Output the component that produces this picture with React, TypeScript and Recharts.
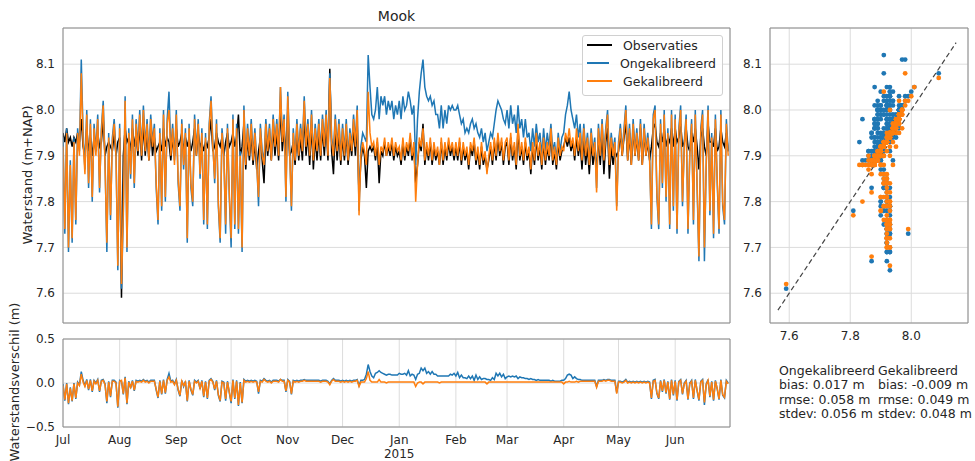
import {
  LineChart,
  Line,
  XAxis,
  YAxis,
  CartesianGrid,
  Legend,
  ScatterChart,
  Scatter,
  ReferenceLine,
} from "recharts";

// one sample per day, starting 1 Jul 2014
const STEP_DAYS = 1;

// Observaties (m+NAP), one line per month Jul 2014 .. Jun 2015
const obs = [
  7.95, 7.93, 7.96, 7.93, 7.94, 7.92, 7.94, 7.93, 7.95, 7.93, 7.98, 7.92, 7.9, 7.96, 7.91, 7.94, 7.9, 7.94, 7.91, 7.95, 7.92, 7.93, 7.98, 7.9, 7.92, 7.93, 7.92, 7.91, 7.95, 7.9, 7.93,
  7.94, 7.59, 7.9, 7.96, 7.93, 7.94, 7.91, 7.96, 7.92, 7.95, 7.9, 7.97, 7.89, 7.97, 7.9, 7.95, 7.89, 7.96, 7.9, 7.94, 7.91, 7.92, 7.93, 7.91, 7.96, 7.92, 7.94, 7.93, 7.89, 7.94, 7.9,
  7.96, 7.92, 7.93, 7.95, 7.91, 7.94, 7.92, 7.94, 7.91, 7.93, 7.96, 7.9, 7.95, 7.92, 7.93, 7.91, 7.93, 7.92, 7.94, 7.98, 7.91, 7.92, 7.95, 7.93, 7.92, 7.94, 7.9, 7.93, 7.95, 7.92,
  7.93, 7.95, 7.92, 7.94, 7.99, 7.9, 7.92, 7.97, 7.87, 7.94, 7.89, 7.95, 7.88, 7.93, 7.87, 7.91, 7.94, 7.89, 7.84, 7.95, 7.9, 7.94, 7.89, 7.96, 7.9, 7.95, 7.89, 8.01, 7.91, 7.96, 7.9,
  8.0, 7.9, 7.91, 7.93, 7.88, 7.95, 7.89, 7.94, 7.89, 7.99, 7.9, 7.95, 7.88, 7.97, 7.87, 7.94, 7.89, 7.95, 7.89, 7.96, 7.9, 7.97, 7.89, 8.09, 7.91, 7.86, 7.96, 7.89, 7.95, 7.88,
  7.94, 7.89, 7.95, 7.88, 7.93, 7.9, 7.96, 7.9, 7.97, 7.81, 7.89, 7.92, 7.9, 7.83, 7.91, 7.92, 7.91, 7.92, 7.89, 7.93, 7.84, 7.91, 7.9, 7.93, 7.9, 7.92, 7.9, 7.93, 7.89, 7.92, 7.9,
  7.91, 7.88, 7.93, 7.89, 7.92, 7.9, 7.94, 7.89, 7.92, 7.84, 7.88, 7.93, 7.91, 7.97, 7.88, 7.92, 7.89, 7.93, 7.88, 7.92, 7.89, 7.91, 7.88, 7.93, 7.88, 7.92, 7.89, 7.93, 7.9, 7.92, 7.89,
  7.92, 7.89, 7.93, 7.88, 7.92, 7.89, 7.91, 7.87, 7.92, 7.9, 7.93, 7.88, 7.91, 7.87, 7.92, 7.88, 7.9, 7.87, 7.89, 7.92, 7.88, 7.93, 7.89, 7.94, 7.9, 7.93, 7.88, 7.92,
  7.93, 7.88, 7.94, 7.89, 7.92, 7.87, 7.96, 7.89, 7.92, 7.88, 7.93, 7.89, 7.91, 7.86, 7.92, 7.88, 7.94, 7.89, 7.92, 7.87, 7.93, 7.88, 7.92, 7.89, 7.95, 7.88, 7.91, 7.87, 7.93, 7.89, 7.91,
  7.92, 7.94, 7.92, 7.94, 7.91, 7.93, 7.89, 7.94, 7.9, 7.93, 7.87, 7.94, 7.88, 7.92, 7.86, 7.93, 7.88, 7.91, 7.87, 7.94, 7.88, 7.95, 7.86, 7.93, 7.96, 7.85, 7.92, 7.88, 7.91, 7.9,
  7.91, 7.95, 7.9, 7.94, 7.97, 7.89, 7.95, 7.88, 7.96, 7.9, 7.94, 7.89, 7.96, 7.88, 7.95, 7.9, 7.93, 7.89, 7.92, 7.96, 7.97, 7.93, 7.92, 7.95, 7.93, 7.96, 7.92, 7.94, 7.93, 7.96, 7.92,
  7.96, 7.93, 7.94, 7.97, 7.92, 7.93, 7.96, 7.92, 7.91, 7.95, 7.93, 7.96, 7.92, 7.87, 7.94, 7.96, 7.92, 7.9, 7.97, 7.93, 7.93, 7.92, 7.96, 7.91, 7.92, 7.96, 7.93, 7.92, 7.95, 7.91,
];

// Ongekalibreerd model
const ong = [
  7.94, 7.73, 7.96, 7.69, 7.89, 7.71, 7.94, 7.75, 7.96, 7.91, 8.11, 7.95, 7.87, 8.0, 7.83, 7.98, 7.8, 7.97, 7.91, 7.99, 7.82, 7.96, 8.02, 7.89, 7.69, 7.95, 7.76, 7.94, 7.98, 7.91, 7.65,
  7.97, 7.61, 7.77, 8.03, 7.69, 7.96, 7.85, 7.99, 7.83, 7.98, 7.92, 8.0, 7.91, 8.01, 7.92, 7.98, 7.9, 7.99, 7.93, 7.97, 7.83, 7.75, 7.96, 7.78, 8.0, 7.8, 7.98, 8.04, 7.91, 7.97, 7.89,
  8.0, 7.84, 7.78, 7.98, 7.87, 7.96, 7.71, 7.97, 7.83, 7.79, 7.99, 7.91, 7.98, 7.85, 7.96, 7.75, 7.95, 7.74, 7.97, 8.03, 7.93, 7.84, 7.98, 7.79, 7.71, 7.96, 7.91, 7.73, 7.97, 7.81,
  7.7, 7.99, 7.74, 7.97, 7.73, 7.91, 7.69, 8.01, 7.89, 7.97, 7.91, 7.98, 7.9, 7.96, 7.89, 7.79, 7.97, 7.91, 7.89, 7.98, 7.92, 7.97, 7.9, 7.99, 7.93, 7.98, 7.91, 8.05, 7.94, 7.99, 7.8,
  8.04, 7.92, 7.78, 7.96, 7.9, 7.98, 7.91, 7.97, 7.92, 8.03, 7.93, 7.98, 7.91, 8.0, 7.9, 7.97, 7.92, 7.98, 7.91, 7.99, 7.93, 8.0, 7.91, 8.08, 7.94, 7.91, 7.99, 7.92, 7.98, 7.9,
  7.97, 7.91, 7.98, 7.9, 7.96, 7.92, 7.99, 7.93, 8.01, 7.78, 7.92, 7.95, 7.94, 7.93, 8.12, 8.05, 7.99, 7.98, 8.0, 8.05, 7.98, 8.03, 8.01, 8.03, 7.99, 8.02, 8.0, 8.02, 7.98, 8.01, 7.99,
  8.02, 7.98, 8.03, 8.0, 8.01, 8.04, 8.02, 7.99, 8.01, 7.88, 7.98, 8.04, 8.08, 8.11, 8.05, 8.03, 8.02, 8.03, 8.01, 8.02, 7.99, 7.99, 7.96, 8.01, 7.96, 8.0, 7.97, 8.01, 8.0, 8.01, 8.0,
  8.0, 8.01, 7.99, 7.97, 7.98, 7.95, 7.96, 7.95, 7.97, 7.98, 7.96, 7.97, 7.95, 7.94, 7.96, 7.93, 7.95, 7.91, 7.93, 7.95, 7.94, 7.97, 8.0, 8.02, 8.01, 8.0, 7.98, 7.97,
  8.0, 7.96, 8.01, 7.97, 7.99, 7.95, 8.01, 7.96, 7.98, 7.94, 7.98, 7.94, 7.95, 7.91, 7.96, 7.92, 7.97, 7.93, 7.95, 7.9, 7.96, 7.91, 7.95, 7.92, 7.97, 7.91, 7.93, 7.89, 7.95, 7.91, 7.94,
  7.95, 7.99, 8.01, 8.04, 8.0, 7.98, 7.96, 7.99, 7.94, 7.97, 7.9, 7.97, 7.91, 7.95, 7.89, 7.96, 7.91, 7.94, 7.83, 7.97, 7.91, 7.98, 7.9, 7.96, 8.0, 7.89, 7.95, 7.91, 7.94, 7.79,
  7.93, 7.97, 7.91, 7.96, 8.01, 7.9, 7.97, 7.89, 7.98, 7.91, 7.96, 7.9, 7.98, 7.89, 7.97, 7.91, 7.95, 7.9, 7.74, 7.99, 8.01, 7.81, 7.74, 7.98, 7.83, 8.0, 7.8, 7.96, 7.74, 8.0, 7.78,
  7.99, 7.73, 7.96, 8.01, 7.79, 7.93, 7.99, 7.73, 7.91, 7.98, 7.75, 8.0, 7.83, 7.67, 7.96, 8.0, 7.67, 7.89, 8.01, 7.77, 7.95, 7.72, 7.99, 7.84, 7.73, 8.0, 7.79, 7.75, 7.98, 7.91,
];

// Gekalibreerd model
const gek = [
  7.92, 7.74, 7.95, 7.7, 7.88, 7.72, 7.93, 7.76, 7.95, 7.9, 8.08, 7.93, 7.86, 7.99, 7.84, 7.97, 7.81, 7.96, 7.9, 7.98, 7.83, 7.95, 8.01, 7.88, 7.71, 7.94, 7.77, 7.93, 7.97, 7.9, 7.66,
  7.96, 7.62, 7.78, 8.02, 7.7, 7.95, 7.86, 7.98, 7.84, 7.97, 7.91, 7.99, 7.9, 8.0, 7.91, 7.97, 7.89, 7.98, 7.92, 7.96, 7.84, 7.76, 7.95, 7.79, 7.99, 7.81, 7.97, 8.0, 7.9, 7.96, 7.88,
  7.99, 7.85, 7.79, 7.97, 7.88, 7.95, 7.72, 7.96, 7.84, 7.8, 7.98, 7.9, 7.97, 7.86, 7.95, 7.76, 7.94, 7.75, 7.96, 8.02, 7.92, 7.85, 7.97, 7.8, 7.72, 7.95, 7.9, 7.75, 7.96, 7.82,
  7.72, 7.98, 7.75, 7.96, 7.74, 7.9, 7.7, 8.0, 7.88, 7.96, 7.9, 7.97, 7.89, 7.95, 7.88, 7.81, 7.96, 7.9, 7.88, 7.97, 7.91, 7.96, 7.89, 7.98, 7.92, 7.97, 7.9, 8.05, 7.93, 7.98, 7.81,
  8.03, 7.91, 7.79, 7.95, 7.89, 7.97, 7.9, 7.96, 7.91, 8.02, 7.92, 7.97, 7.9, 7.99, 7.89, 7.96, 7.91, 7.97, 7.9, 7.98, 7.92, 7.99, 7.9, 8.07, 7.93, 7.9, 7.98, 7.91, 7.97, 7.89,
  7.96, 7.9, 7.97, 7.89, 7.95, 7.91, 7.98, 7.92, 8.0, 7.77, 7.9, 7.93, 7.91, 7.88, 8.04, 7.95, 7.92, 7.93, 7.9, 7.94, 7.88, 7.92, 7.91, 7.94, 7.9, 7.93, 7.91, 7.94, 7.9, 7.93, 7.91,
  7.92, 7.89, 7.94, 7.9, 7.93, 7.91, 7.95, 7.9, 7.93, 7.8, 7.88, 7.94, 7.92, 7.96, 7.89, 7.93, 7.9, 7.94, 7.89, 7.93, 7.9, 7.92, 7.88, 7.94, 7.89, 7.93, 7.9, 7.94, 7.91, 7.93, 7.9,
  7.93, 7.9, 7.94, 7.89, 7.93, 7.9, 7.92, 7.88, 7.93, 7.91, 7.94, 7.89, 7.92, 7.88, 7.93, 7.89, 7.91, 7.86, 7.9, 7.93, 7.89, 7.94, 7.9, 7.95, 7.91, 7.94, 7.89, 7.93,
  7.94, 7.89, 7.95, 7.9, 7.93, 7.88, 7.97, 7.9, 7.93, 7.89, 7.94, 7.9, 7.92, 7.87, 7.93, 7.89, 7.95, 7.9, 7.93, 7.88, 7.94, 7.89, 7.93, 7.9, 7.96, 7.89, 7.92, 7.88, 7.94, 7.9, 7.92,
  7.91, 7.95, 7.93, 7.96, 7.92, 7.94, 7.9, 7.96, 7.91, 7.95, 7.89, 7.96, 7.9, 7.94, 7.88, 7.95, 7.9, 7.93, 7.82, 7.96, 7.9, 7.97, 7.89, 7.95, 7.99, 7.88, 7.94, 7.9, 7.93, 7.78,
  7.92, 7.96, 7.9, 7.95, 8.0, 7.89, 7.96, 7.88, 7.97, 7.9, 7.95, 7.89, 7.97, 7.88, 7.96, 7.9, 7.94, 7.89, 7.75, 7.98, 8.0, 7.82, 7.75, 7.97, 7.84, 7.99, 7.81, 7.95, 7.75, 7.99, 7.79,
  7.98, 7.74, 7.95, 8.0, 7.8, 7.92, 7.98, 7.74, 7.9, 7.97, 7.76, 7.99, 7.84, 7.68, 7.95, 7.99, 7.7, 7.88, 8.0, 7.78, 7.94, 7.73, 7.98, 7.85, 7.74, 7.99, 7.8, 7.76, 7.97, 7.9,
];

const seriesOrder = ["obs", "ong", "gek"];
const monthTicks = [0, 31, 62, 92, 123, 153, 184, 215, 243, 274, 304, 335];
const monthLabels = ["Jul", "Aug", "Sep", "Oct", "Nov", "Dec", "Jan", "Feb", "Mar", "Apr", "May", "Jun"];
const yearTick = 184;
const yearLabel = "2015";
const levelTicks = [7.6, 7.7, 7.8, 7.9, 8.0, 8.1];
const diffTicks = [-0.5, 0, 0.5];
const scatterXTicks = [7.6, 7.8, 8.0];
const oneToOne = [7.563, 8.147];

const statHeaders = ["Ongekalibreerd", "Gekalibreerd"];
const statsOng = ["bias: 0.017 m", "rmse: 0.058 m", "stdev: 0.056 m"];
const statsGek = ["bias: -0.009 m", "rmse: 0.049 m", "stdev: 0.048 m"];

const LEVEL_DOMAIN: [number, number] = [7.535, 8.179];
const SCATTER_X_DOMAIN: [number, number] = [7.537, 8.186];

const BLACK = "#000000";
const BLUE = "#1f77b4";
const ORANGE = "#ff7f0e";
const GRID = "#dcdcdc";
const SPINE = "#8c8c8c";
const TEXT = "#262626";

const weekTicks = Array.from({ length: 52 }, (_, k) => 6 + 7 * k);
const levelMinor = Array.from({ length: 32 }, (_, k) => +(7.54 + 0.02 * k).toFixed(2));
const diffMinor = Array.from({ length: 11 }, (_, k) => +(-0.5 + 0.1 * k).toFixed(1));
const scatterTopMinor = Array.from({ length: 13 }, (_, k) => +(7.55 + 0.05 * k).toFixed(2));

const rows = obs.map((v, i) => ({
  day: i * STEP_DAYS,
  obs: v,
  ong: ong[i],
  gek: gek[i],
  dOng: ong[i] - v,
  dGek: gek[i] - v,
}));
const ongPairs = obs.map((v, i) => ({ x: v, y: ong[i] }));
const gekPairs = obs.map((v, i) => ({ x: v, y: gek[i] }));

const tickStyle = { fontSize: 12, fill: TEXT };
const spine = { stroke: SPINE };

const MonthTick = ({ x, y, payload }: any) => {
  const i = monthTicks.indexOf(payload.value);
  return (
    <g>
      <text x={x} y={y} dy="0.71em" textAnchor="middle" fontSize={12} fill={TEXT}>
        {monthLabels[i]}
      </text>
      {payload.value === yearTick && (
        <text x={x} y={y + 14} dy="0.71em" textAnchor="middle" fontSize={12} fill={TEXT}>
          {yearLabel}
        </text>
      )}
    </g>
  );
};

const LegendBox = ({ payload }: any) => (
  <div
    style={{
      border: "1px solid #d0d0d0",
      borderRadius: 3,
      background: "rgba(255,255,255,0.85)",
      padding: "0 6px 5px 4px",
      width: 129,
      fontFamily: "'DejaVu Sans', sans-serif",
    }}
  >
    {(payload || []).map((e: any) => (
      <div key={e.value} style={{ display: "flex", alignItems: "center", height: 18 }}>
        <span style={{ display: "inline-block", width: 25, height: 2, background: e.color, marginRight: 11 }} />
        <span style={{ fontSize: 12.5, color: TEXT, whiteSpace: "nowrap" }}>{e.value}</span>
      </div>
    ))}
  </div>
);

const fmt1 = (v: number) => (v < 0 ? "\u2212" + Math.abs(v).toFixed(1) : v.toFixed(1));

export default function App() {
  return (
    <div
      style={{
        position: "absolute",
        left: 0,
        top: 0,
        width: 975,
        height: 461,
        background: "#fff",
        overflow: "hidden",
        fontFamily: "'DejaVu Sans', sans-serif",
        color: TEXT,
      }}
    >
      <div style={{ position: "absolute", left: 63, width: 667, top: 8, textAlign: "center", fontSize: 14 }}>
        Mook
      </div>
      <div
        style={{
          position: "absolute",
          left: 27,
          top: 175,
          transform: "translate(-50%, -50%) rotate(-90deg)",
          whiteSpace: "nowrap",
          fontSize: 13,
        }}
      >
        Waterstand (m+NAP)
      </div>
      <div
        style={{
          position: "absolute",
          left: 14,
          top: 382,
          transform: "translate(-50%, -50%) rotate(-90deg)",
          whiteSpace: "nowrap",
          fontSize: 13,
        }}
      >
        Waterstandsverschil (m)
      </div>

      {/* water level time series */}
      <div style={{ position: "absolute", left: 0, top: 0 }}>
        <LineChart width={745} height={330} data={rows} margin={{ top: 24, right: 11, bottom: 6, left: 0 }}>
          <CartesianGrid stroke={GRID} />
          <XAxis dataKey="day" type="number" domain={[0, 365]} ticks={monthTicks} tick={false} tickLine={false} height={1} axisLine={spine} allowDataOverflow />
          <XAxis xAxisId="top" orientation="top" type="number" domain={[0, 365]} ticks={weekTicks} tick={false} tickSize={3} tickLine={spine} height={4} axisLine={spine} allowDataOverflow />
          <YAxis type="number" domain={LEVEL_DOMAIN} ticks={levelTicks} width={63} tickLine={false} axisLine={spine} tick={tickStyle} tickFormatter={fmt1} allowDataOverflow />
          <YAxis yAxisId="right" orientation="right" type="number" domain={LEVEL_DOMAIN} ticks={levelMinor} tick={false} tickSize={3} tickLine={spine} width={4} axisLine={spine} allowDataOverflow />
          <Legend
            layout="vertical"
            align="center"
            verticalAlign="middle"
            itemSorter={(item: any) => seriesOrder.indexOf(item.dataKey)}
            content={<LegendBox />}
            wrapperStyle={{ left: 582, top: 35, right: "auto", bottom: "auto", width: 141 }}
          />
          <Line dataKey="obs" name="Observaties" stroke={BLACK} strokeWidth={1.5} dot={false} isAnimationActive={false} />
          <Line dataKey="ong" name="Ongekalibreerd" stroke={BLUE} strokeWidth={1.5} dot={false} isAnimationActive={false} />
          <Line dataKey="gek" name="Gekalibreerd" stroke={ORANGE} strokeWidth={1.5} dot={false} isAnimationActive={false} />
        </LineChart>
      </div>

      {/* difference time series */}
      <div style={{ position: "absolute", left: 0, top: 330 }}>
        <LineChart width={745} height={131} data={rows} margin={{ top: 5, right: 11, bottom: 4, left: 0 }}>
          <CartesianGrid stroke={GRID} />
          <XAxis dataKey="day" type="number" domain={[0, 365]} ticks={monthTicks} tick={<MonthTick />} tickLine={false} interval={0} height={30} axisLine={spine} allowDataOverflow />
          <XAxis xAxisId="top" orientation="top" type="number" domain={[0, 365]} ticks={weekTicks} tick={false} tickSize={3} tickLine={spine} height={4} axisLine={spine} allowDataOverflow />
          <YAxis type="number" domain={[-0.5, 0.5]} ticks={diffTicks} width={63} tickLine={false} axisLine={spine} tick={tickStyle} tickFormatter={fmt1} interval={0} allowDataOverflow />
          <YAxis yAxisId="right" orientation="right" type="number" domain={[-0.5, 0.5]} ticks={diffMinor} tick={false} tickSize={3} tickLine={spine} width={4} axisLine={spine} allowDataOverflow />
          <Line dataKey="dOng" stroke={BLUE} strokeWidth={1.5} dot={false} isAnimationActive={false} />
          <Line dataKey="dGek" stroke={ORANGE} strokeWidth={1.5} dot={false} isAnimationActive={false} />
        </LineChart>
      </div>

      {/* observed vs modelled scatter */}
      <div style={{ position: "absolute", left: 740, top: 0 }}>
        <ScatterChart width={235} height={345} margin={{ top: 24, right: 3, bottom: 0, left: 0 }}>
          <CartesianGrid stroke={GRID} />
          <XAxis dataKey="x" type="number" domain={SCATTER_X_DOMAIN} ticks={scatterXTicks} tickLine={false} height={22} axisLine={spine} tick={tickStyle} tickFormatter={fmt1} interval={0} allowDataOverflow />
          <XAxis xAxisId="top" orientation="top" type="number" domain={SCATTER_X_DOMAIN} ticks={scatterTopMinor} tick={false} tickSize={3} tickLine={spine} height={4} axisLine={spine} allowDataOverflow />
          <YAxis dataKey="y" type="number" domain={LEVEL_DOMAIN} ticks={levelTicks} width={30} tickLine={false} axisLine={spine} tick={tickStyle} tickFormatter={fmt1} interval={0} allowDataOverflow />
          <YAxis yAxisId="right" orientation="right" type="number" domain={LEVEL_DOMAIN} ticks={levelMinor} tick={false} tickSize={3} tickLine={spine} width={4} axisLine={spine} allowDataOverflow />
          <Scatter
            data={ongPairs}
            fill={BLUE}
            isAnimationActive={false}
            shape={(p: any) => <circle cx={p.cx} cy={p.cy} r={2.4} fill={BLUE} />}
          />
          <Scatter
            data={gekPairs}
            fill={ORANGE}
            isAnimationActive={false}
            shape={(p: any) => <circle cx={p.cx} cy={p.cy} r={2.4} fill={ORANGE} />}
          />
          <ReferenceLine
            segment={[
              { x: oneToOne[0], y: oneToOne[0] },
              { x: oneToOne[1], y: oneToOne[1] },
            ]}
            stroke="#444"
            strokeWidth={1.2}
            strokeDasharray="5 3"
          />
        </ScatterChart>
      </div>

      {/* statistics */}
      {[statsOng, statsGek].map((col, c) => (
        <div
          key={statHeaders[c]}
          style={{ position: "absolute", left: c === 0 ? 779 : 878, top: 364, fontSize: 12.5, lineHeight: "14.3px", whiteSpace: "nowrap" }}
        >
          <div>{statHeaders[c]}</div>
          {col.map((s) => (
            <div key={s}>{s}</div>
          ))}
        </div>
      ))}
    </div>
  );
}
